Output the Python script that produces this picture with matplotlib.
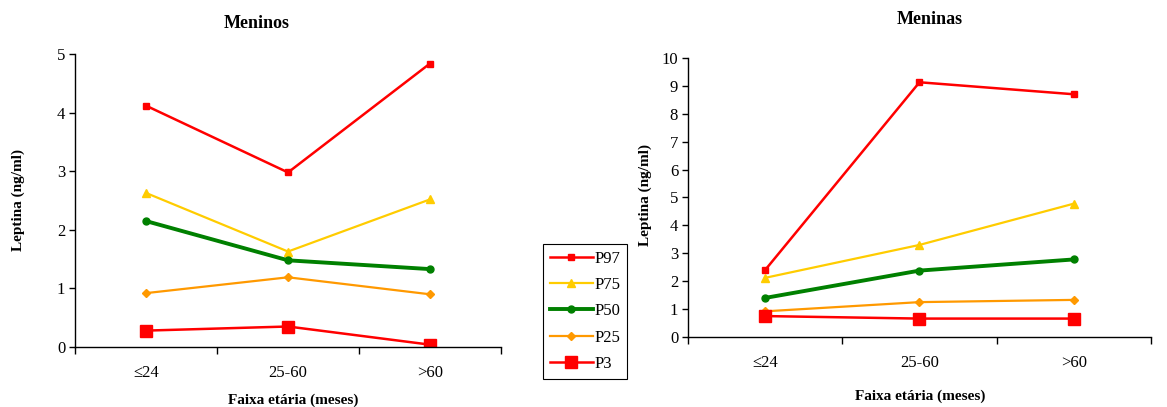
import matplotlib.pyplot as plt

plt.rcParams['font.family'] = ['Liberation Serif', 'DejaVu Serif']

faixas = ['≤24', '25-60', '>60']
series = ['P97', 'P75', 'P50', 'P25', 'P3']

# Meninos
boys_p97 = [4.12, 2.98, 4.84]
boys_p75 = [2.63, 1.63, 2.52]
boys_p50 = [2.15, 1.48, 1.33]
boys_p25 = [0.92, 1.19, 0.90]
boys_p3 = [0.28, 0.35, 0.04]

# Meninas
girls_p97 = [2.40, 9.13, 8.70]
girls_p75 = [2.12, 3.30, 4.78]
girls_p50 = [1.40, 2.38, 2.78]
girls_p25 = [0.92, 1.25, 1.33]
girls_p3 = [0.75, 0.66, 0.66]

colors = {'P97': '#ff0000', 'P75': '#ffcc00', 'P50': '#008000', 'P25': '#ff9900', 'P3': '#ff0000'}
markers = {'P97': 's', 'P75': '^', 'P50': 'o', 'P25': 'D', 'P3': 's'}
msizes = {'P97': 5, 'P75': 6, 'P50': 5, 'P25': 4.5, 'P3': 8.5}
lwidths = {'P97': 1.8, 'P75': 1.6, 'P50': 2.8, 'P25': 1.6, 'P3': 1.8}

fig = plt.figure(figsize=(11.67, 4.07), dpi=100)
ax1 = fig.add_axes([0.0643, 0.1474, 0.365, 0.7196])
ax2 = fig.add_axes([0.5895, 0.172, 0.3968, 0.6855])

xpos = [0.5, 1.5, 2.5]


def draw(ax, data, ymax, step):
    lines = []
    for name, vals in zip(series, data):
        ln, = ax.plot(xpos, vals, color=colors[name], marker=markers[name],
                      markersize=msizes[name], linewidth=lwidths[name], label=name)
        lines.append(ln)
    ax.set_xlim(0, 3)
    ax.set_ylim(0, ymax)
    ax.set_yticks(range(0, ymax + 1, step))
    ax.set_xticks([0, 1, 2, 3])
    ax.set_xticklabels([])
    ax.set_xticks(xpos, minor=True)
    ax.set_xticklabels(faixas, minor=True)
    ax.tick_params(axis='x', which='minor', length=0, pad=13, labelsize=12)
    ax.tick_params(axis='x', which='major', length=5, width=1)
    ax.tick_params(axis='y', length=4, width=1, labelsize=12, pad=3)
    for s in ['top', 'right']:
        ax.spines[s].set_visible(False)
    ax.spines['left'].set_linewidth(1)
    ax.spines['bottom'].set_linewidth(1)
    return lines


lines = draw(ax1, [boys_p97, boys_p75, boys_p50, boys_p25, boys_p3], 5, 1)
draw(ax2, [girls_p97, girls_p75, girls_p50, girls_p25, girls_p3], 10, 1)

fig.text(257 / 1167, 1 - 23 / 407, 'Meninos', ha='center', va='center', fontsize=13, fontweight='bold')
fig.text(930 / 1167, 1 - 20 / 407, 'Meninas', ha='center', va='center', fontsize=13, fontweight='bold')

fig.text(18 / 1167, 1 - 200 / 407, 'Leptina (ng/ml)', rotation=90, ha='center', va='center',
         fontsize=11, fontweight='bold')
fig.text(645 / 1167, 1 - 195 / 407, 'Leptina (ng/ml)', rotation=90, ha='center', va='center',
         fontsize=11, fontweight='bold')

fig.text(293 / 1167, 1 - 400 / 407, 'Faixa etária (meses)', ha='center', va='center',
         fontsize=11, fontweight='bold')
fig.text(920 / 1167, 1 - 396 / 407, 'Faixa etária (meses)', ha='center', va='center',
         fontsize=11, fontweight='bold')

leg = fig.legend(handles=lines, loc='upper left', bbox_to_anchor=(543 / 1167, 1 - 244 / 407),
                 fancybox=False, edgecolor='black', framealpha=1, fontsize=12,
                 handlelength=2.6, handletextpad=0.1, borderpad=0.4, labelspacing=0.62,
                 borderaxespad=0)
leg.get_frame().set_linewidth(0.8)

fig.savefig('out.png', dpi=100)
